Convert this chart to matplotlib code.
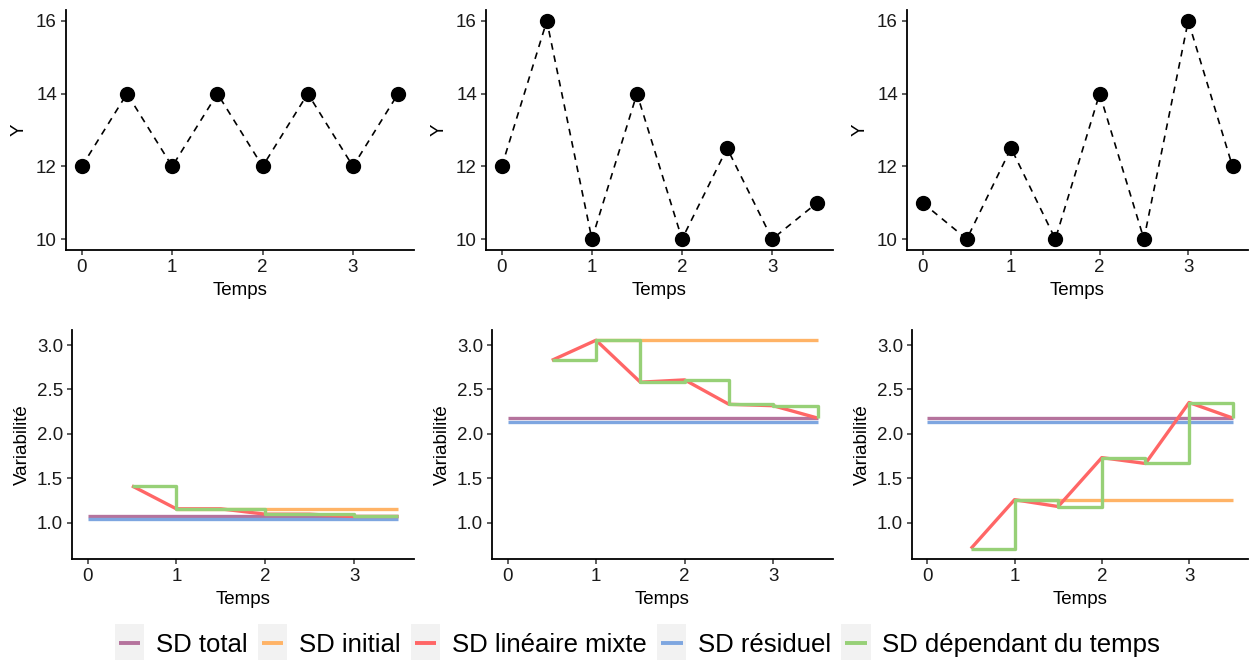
import matplotlib
matplotlib.use("Agg")
import matplotlib.pyplot as plt
from matplotlib.lines import Line2D
from matplotlib.patches import Rectangle
from matplotlib.legend_handler import HandlerLine2D

plt.rcParams['font.family'] = ['Liberation Sans', 'DejaVu Sans']

# Observations
temps = [0, 0.5, 1, 1.5, 2, 2.5, 3, 3.5]
y_1 = [12, 14, 12, 14, 12, 14, 12, 14]
y_2 = [12, 16, 10, 14, 10, 12.5, 10, 11]
y_3 = [11, 10, 12.5, 10, 14, 10, 16, 12]

# Variability summaries
temps_dep = [0.5, 1, 1.5, 2, 2.5, 3, 3.5]
sd_dep_1 = [1.414, 1.155, 1.155, 1.095, 1.095, 1.069, 1.069]
sd_dep_2 = [2.828, 3.055, 2.582, 2.608, 2.333, 2.317, 2.178]
sd_dep_3 = [0.707, 1.258, 1.181, 1.732, 1.666, 2.353, 2.178]
sd_total = [1.069, 2.178, 2.178]
sd_initial = [1.155, 3.055, 1.258]
sd_residuel = [1.04, 2.13, 2.13]

labels = ["SD total", "SD initial", "SD linéaire mixte", "SD résiduel",
          "SD dépendant du temps"]
colors = {"total": "#B5739D", "initial": "#FFB366", "lin": "#FF6666",
          "res": "#7EA6E0", "dep": "#97D077"}

W, H = 1250, 660
fig = plt.figure(figsize=(W / 100, H / 100), dpi=100)


def box(x0, x1, y0, y1):
    return [x0 / W, 1 - y1 / H, (x1 - x0) / W, (y1 - y0) / H]


top_boxes = [box(66, 414, 10, 250), box(486, 833, 10, 250), box(907, 1248, 10, 250)]
bot_boxes = [box(72, 414, 330, 559), box(492, 833, 330, 559), box(912, 1248, 330, 559)]

FS = 13.5
LW = 2.4


def style(ax):
    for s in ("top", "right"):
        ax.spines[s].set_visible(False)
    for s in ("left", "bottom"):
        ax.spines[s].set_linewidth(1.3)
        ax.spines[s].set_color("black")
    ax.tick_params(length=3.5, width=1.1, color="#333333", labelsize=FS,
                   labelcolor="#1a1a1a", pad=3)
    ax.set_xlim(-0.175, 3.675)
    ax.set_xticks([0, 1, 2, 3])
    ax.set_xlabel("Temps", fontsize=FS, labelpad=4)


series_y = [y_1, y_2, y_3]
for bx, yy in zip(top_boxes, series_y):
    ax = fig.add_axes(bx)
    ax.plot(temps, yy, color="black", lw=1.2, ls=(0, (4, 3.5)), zorder=2)
    ax.plot(temps, yy, "o", color="black", ms=10, zorder=3)
    style(ax)
    ax.set_ylim(9.7, 16.3)
    ax.set_yticks([10, 12, 14, 16])
    ax.set_ylabel("Y", fontsize=FS, labelpad=6)

series_dep = [sd_dep_1, sd_dep_2, sd_dep_3]
for i, bx in enumerate(bot_boxes):
    ax = fig.add_axes(bx)
    ax.plot([0, 3.5], [sd_total[i]] * 2, color=colors["total"], lw=LW,
            solid_capstyle="butt")
    ax.plot([0, 3.5], [sd_residuel[i]] * 2, color=colors["res"], lw=LW,
            solid_capstyle="butt")
    ax.plot([1, 3.5], [sd_initial[i]] * 2, color=colors["initial"], lw=LW,
            solid_capstyle="butt")
    ax.plot(temps_dep, series_dep[i], color=colors["lin"], lw=LW,
            solid_capstyle="butt")
    ax.step(temps_dep, series_dep[i], where="post", color=colors["dep"], lw=LW,
            solid_capstyle="butt")
    style(ax)
    ax.set_ylim(0.59, 3.17)
    ax.set_yticks([1.0, 1.5, 2.0, 2.5, 3.0])
    ax.set_yticklabels(["1.0", "1.5", "2.0", "2.5", "3.0"])
    ax.set_ylabel("Variabilité", fontsize=FS, labelpad=4)


class KeyHandler(HandlerLine2D):
    def create_artists(self, legend, orig_handle, xdescent, ydescent,
                       width, height, fontsize, trans):
        bg = Rectangle((-xdescent, -ydescent - 0.55 * height), width,
                       height * 2.1, facecolor="#F2F2F2", edgecolor="none",
                       transform=trans)
        y = -ydescent + height / 2
        ln = Line2D([-xdescent + 0.13 * width, -xdescent + 0.87 * width],
                    [y, y], color=orig_handle.get_color(), lw=LW + 0.4,
                    solid_capstyle="butt", transform=trans)
        return [bg, ln]


handles = [Line2D([], [], color=c) for c in
           [colors["total"], colors["initial"], colors["lin"], colors["res"],
            colors["dep"]]]
fig.legend(handles, labels, loc="center", bbox_to_anchor=(0.51, 1 - 645 / H),
           ncol=5, frameon=False, fontsize=18.5, handlelength=1.15,
           handletextpad=0.45, columnspacing=0.4, borderaxespad=0,
           handler_map={Line2D: KeyHandler()})

fig.savefig("out.png", dpi=100)
